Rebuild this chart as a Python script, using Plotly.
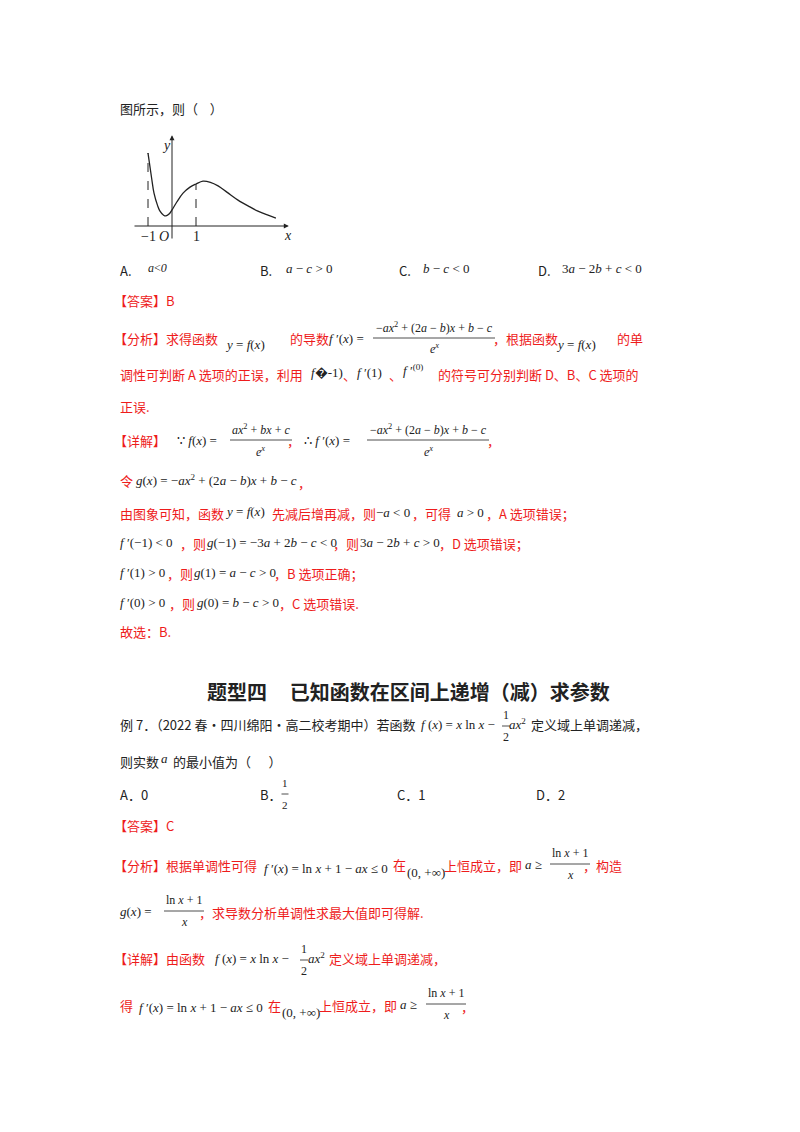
import plotly.graph_objects as go

W, H = 800, 1132
# curve of y=f(x)
curve_x = [-1.0, -0.85, -0.75, -0.6, -0.5, -0.35, -0.25, -0.1, 0.0, 0.2, 0.46, 0.75, 1.0, 1.29, 1.6, 1.92, 2.3, 2.75, 3.2, 3.58, 4.0, 4.33]
curve_y = [3.04, 2.0, 1.37, 0.85, 0.62, 0.45, 0.42, 0.52, 0.67, 1.0, 1.37, 1.62, 1.75, 1.87, 1.82, 1.67, 1.4, 1.08, 0.82, 0.62, 0.45, 0.33]
tick_vals = [-1, 1]
tick_labels = ["−1", "1"]

RED = "#ee1c1c"
BLK = "#222222"
CJK = "Noto Sans CJK SC"
SER = "Liberation Serif"
DX = -8

fig = go.Figure()
fig.add_trace(go.Scatter(x=curve_x, y=curve_y, mode="lines", line=dict(color="#222", width=1.3, shape="spline"),
                         showlegend=False, hoverinfo="skip"))
fy_at = {-1: curve_y[0], 1: curve_y[curve_x.index(1.0)]}
for v in tick_vals:
    fig.add_trace(go.Scatter(x=[v, v], y=[0, fy_at[v]], mode="lines", line=dict(color="#222", width=1, dash="dash"),
                             showlegend=False, hoverinfo="skip"))

x0p, x1p = 125, 282
y0p, y1p = 232, 126
xr = [(x0p - 164) / 24, (x1p - 164) / 24]
yr = [(218 - y0p) / 24, (218 - y1p) / 24]
fig.update_layout(
    width=W, height=H, margin=dict(l=0, r=0, t=0, b=0),
    paper_bgcolor="white", plot_bgcolor="white",
    xaxis=dict(domain=[x0p / W, x1p / W], range=xr, visible=False),
    yaxis=dict(domain=[1 - y0p / H, 1 - y1p / H], range=yr, visible=False),
)
# axes arrows
fig.add_annotation(x=xr[1] - 0.05, y=0, ax=xr[0], ay=0, xref="x", yref="y", axref="x", ayref="y",
                   showarrow=True, arrowhead=2, arrowsize=1, arrowwidth=1, arrowcolor="#222", text="")
fig.add_annotation(x=0, y=yr[1] - 0.05, ax=0, ay=yr[0], xref="x", yref="y", axref="x", ayref="y",
                   showarrow=True, arrowhead=2, arrowsize=1, arrowwidth=1, arrowcolor="#222", text="")
for v, lab in zip(tick_vals, tick_labels):
    fig.add_annotation(x=v, y=-0.05, xref="x", yref="y", text=lab, showarrow=False, yanchor="top",
                       font=dict(family=SER, size=14, color=BLK))
fig.add_annotation(x=-0.35, y=-0.05, xref="x", yref="y", text="<i>O</i>", showarrow=False, yanchor="top",
                   font=dict(family=SER, size=14, color=BLK))
fig.add_annotation(x=xr[1] - 0.1, y=-0.0, xref="x", yref="y", text="<i>x</i>", showarrow=False, yanchor="top",
                   font=dict(family=SER, size=14, color=BLK))
fig.add_annotation(x=-0.25, y=yr[1] - 0.1, xref="x", yref="y", text="<i>y</i>", showarrow=False, yanchor="top",
                   font=dict(family=SER, size=14, color=BLK))


def T(x, y, s, color=BLK, size=13, fam=CJK, anchor="left", bold=False):
    if bold:
        s = "<b>" + s + "</b>"
    if anchor == "left":
        x = x + DX
    fig.add_annotation(x=x / W, y=1 - y / H, xref="paper", yref="paper", text=s, showarrow=False,
                       xanchor=anchor, yanchor="middle", borderpad=0,
                       font=dict(family=fam, size=size, color=color))


def M(x, y, s, size=13, anchor="left", color=BLK):
    T(x, y, s, color=color, size=size, fam=SER, anchor=anchor)


def FR(cx, y, num, den, w, size=12, color=BLK):
    M(cx, y - 11, num, size=size, anchor="center", color=color)
    M(cx, y + 11, den, size=size, anchor="center", color=color)
    fig.add_shape(type="line", xref="paper", yref="paper", x0=(cx - w / 2) / W, x1=(cx + w / 2) / W,
                  y0=1 - y / H, y1=1 - y / H, line=dict(color=color, width=0.8))


# ---- first problem ----
T(119, 101, "图所示，则（    ）")
T(119, 262, "A.")
M(147, 260, "<i>a</i><<i>0</i>", size=12)
T(259, 262, "B.")
M(285, 261, "<i>a</i> − <i>c</i> > 0")
T(398, 262, "C.")
M(422, 261, "<i>b</i> − <i>c</i> < 0")
T(537, 262, "D.")
M(561, 261, "3<i>a</i> − 2<i>b</i> + <i>c</i> < 0")
T(113, 292, "【答案】B", RED)

T(113, 330, "【分析】求得函数", RED)
M(224, 336, "<i>y</i> = <i>f</i>(<i>x</i>)")
T(289, 330, "的导数", RED)
M(328, 330, "<i>f</i> ′(<i>x</i>) =")
FR(426, 330, "−<i>ax</i><sup>2</sup> + (2<i>a</i> − <i>b</i>)<i>x</i> + <i>b</i> − <i>c</i>", "<i>e<sup>x</sup></i>", 122)
T(492, 330, "，根据函数", RED)
M(555, 336, "<i>y</i> = <i>f</i>(<i>x</i>)")
T(616, 330, "的单", RED)
T(119, 366, "调性可判断 A 选项的正误，利用", RED)
M(310, 364, "<i>f</i>�-1)")
T(342, 366, "、", RED)
M(356, 364, "<i>f</i> ′(1)")
T(388, 366, "、", RED)
M(402, 362, "<i>f</i> ′<sup>(0)</sup>")
T(437, 366, "的符号可分别判断 D、B、C 选项的", RED)
T(119, 398, "正误.", RED)

T(113, 432, "【详解】", RED)
M(176, 432, "∵ <i>f</i>(<i>x</i>) =")
FR(253, 432, "<i>ax</i><sup>2</sup> + <i>bx</i> + <i>c</i>", "<i>e<sup>x</sup></i>", 62)
T(286, 432, "，", RED)
M(303, 432, "∴ <i>f</i> ′(<i>x</i>) =")
FR(420, 432, "−<i>ax</i><sup>2</sup> + (2<i>a</i> − <i>b</i>)<i>x</i> + <i>b</i> − <i>c</i>", "<i>e<sup>x</sup></i>", 122)
T(486, 432, "，", RED)

T(119, 472, "令", RED)
M(135, 472, "<i>g</i>(<i>x</i>) = −<i>ax</i><sup>2</sup> + (2<i>a</i> − <i>b</i>)<i>x</i> + <i>b</i> − <i>c</i>")
T(297, 474, "，", RED)
T(119, 505, "由图象可知，函数", RED)
M(224, 503, "<i>y</i> = <i>f</i>(<i>x</i>)")
T(271, 505, "先减后增再减，则", RED)
M(375, 504, "−<i>a</i> < 0")
T(411, 505, "，可得", RED)
M(456, 504, "<i>a</i> > 0")
T(485, 505, "，A 选项错误；", RED)
M(119, 534, "<i>f</i> ′(−1) < 0")
T(179, 535, "，则", RED)
M(206, 534, "<i>g</i>(−1) = −3<i>a</i> + 2<i>b</i> − <i>c</i> < 0")
T(332, 535, "，则", RED)
M(359, 534, "3<i>a</i> − 2<i>b</i> + <i>c</i> > 0")
T(438, 535, "，D 选项错误；", RED)
M(119, 564, "<i>f</i> ′(1) > 0")
T(166, 565, "，则", RED)
M(193, 564, "<i>g</i>(1) = <i>a</i> − <i>c</i> > 0")
T(273, 565, "，B 选项正确；", RED)
M(119, 594, "<i>f</i> ′(0) > 0")
T(168, 595, "，则", RED)
M(196, 594, "<i>g</i>(0) = <i>b</i> − <i>c</i> > 0")
T(278, 595, "，C 选项错误.", RED)
T(119, 623, "故选：B.", RED)

# ---- heading ----
T(400, 683, "题型四     已知函数在区间上递增（减）求参数", BLK, size=20, anchor="center", bold=True)

T(119, 717, "例 7．（2022 春·四川绵阳·高二校考期中）若函数", BLK, size=13)
M(420, 716, "<i>f</i> (<i>x</i>) = <i>x</i> ln <i>x</i> −")
FR(498, 718, "1", "2", 8)
M(508, 716, "<i>ax</i><sup>2</sup>")
T(530, 717, "定义域上单调递减，", BLK, size=13)
T(119, 753, "则实数", BLK, size=13)
M(160, 750, "<i>a</i>")
T(172, 753, "的最小值为（      ）", BLK, size=13)
T(119, 786, "A．0", BLK, size=13)
T(259, 786, "B．", BLK, size=13)
FR(277, 786, "1", "2", 7, size=11)
T(396, 786, "C．1", BLK, size=13)
T(535, 786, "D．2", BLK, size=13)
T(113, 817, "【答案】C", RED)

T(113, 857, "【分析】根据单调性可得", RED)
M(263, 860, "<i>f</i> ′(<i>x</i>) = ln <i>x</i> + 1 − <i>ax</i> ≤ 0")
T(392, 856, "在", RED)
M(406, 864, "(0, +∞)")
T(443, 857, "上恒成立，即", RED)
M(524, 856, "<i>a</i> ≥")
FR(562, 856, "ln <i>x</i> + 1", "<i>x</i>", 40)
T(582, 857, "，构造", RED)
M(119, 903, "<i>g</i>(<i>x</i>) =")
FR(176, 903, "ln <i>x</i> + 1", "<i>x</i>", 40)
T(198, 904, "，求导数分析单调性求最大值即可得解.", RED)

T(113, 950, "【详解】由函数", RED)
M(214, 950, "<i>f</i> (<i>x</i>) = <i>x</i> ln <i>x</i> −")
FR(296, 952, "1", "2", 8)
M(307, 950, "<i>ax</i><sup>2</sup>")
T(328, 950, "定义域上单调递减，", RED)
T(119, 997, "得", RED)
M(138, 1000, "<i>f</i> ′(<i>x</i>) = ln <i>x</i> + 1 − <i>ax</i> ≤ 0")
T(267, 997, "在", RED)
M(281, 1004, "(0, +∞)")
T(318, 997, "上恒成立，即", RED)
M(399, 996, "<i>a</i> ≥")
FR(438, 996, "ln <i>x</i> + 1", "<i>x</i>", 40)
T(460, 998, "，", RED)

fig.write_html("out.html")
